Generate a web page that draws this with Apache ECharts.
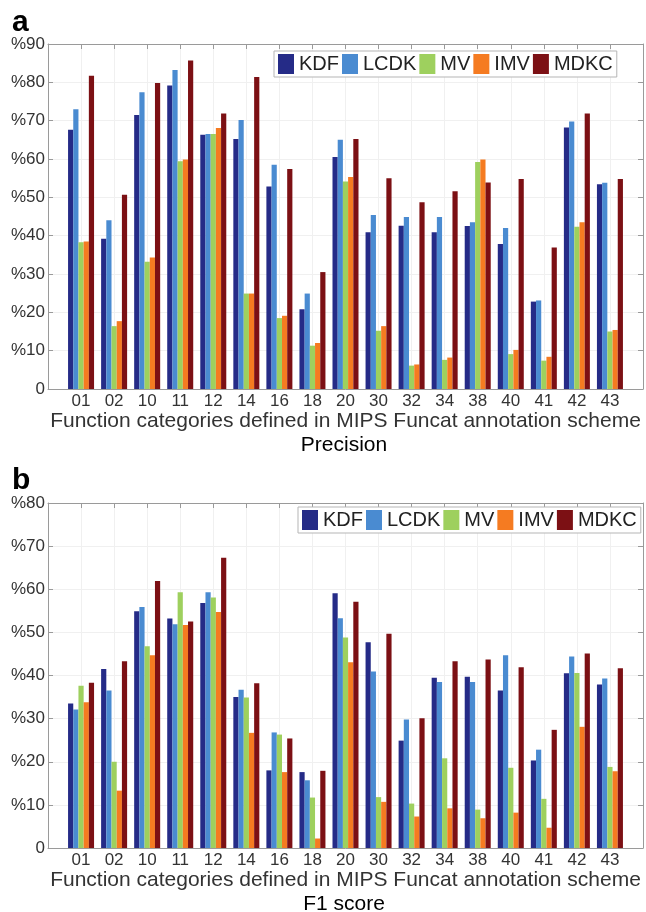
<!DOCTYPE html>
<html>
<head>
<meta charset="utf-8">
<script src="https://cdn.jsdelivr.net/npm/echarts@6/dist/echarts.min.js"></script>
<style>
html,body{margin:0;padding:0;background:#fff;}
#c{width:646px;height:912px;}
</style>
</head>
<body>
<div id="c"></div>
<script>
var categories = ['01','02','10','11','12','14','16','18','20','30','32','34','38','40','41','42','43'];
var methods = ['KDF','LCDK','MV','IMV','MDKC'];
var colors = ['#252b87','#4a8bd1','#9ed05e','#f57b21','#7c1014'];

// Panel a: Precision (%)
var precKDF  = [67.6,39.2,71.5,79.2,66.3,65.2,52.8,20.8,60.5,40.9,42.6,40.9,42.5,37.8,22.8,68.2,53.4];
var precLCDK = [73.0,44.0,77.4,83.2,66.5,70.2,58.5,24.9,65.0,45.4,44.9,44.9,43.5,42.0,23.1,69.8,53.8];
var precMV   = [38.3,16.4,33.2,59.4,66.5,24.9,18.5,11.3,54.1,15.2,6.1,7.6,59.2,9.1,7.4,42.3,15.0];
var precIMV  = [38.5,17.7,34.3,59.9,68.1,24.9,19.1,12.0,55.3,16.4,6.4,8.2,59.9,10.2,8.4,43.5,15.4];
var precMDKC = [81.7,50.7,79.8,85.7,71.9,81.4,57.4,30.5,65.2,55.0,48.7,51.6,53.9,54.8,36.9,71.9,54.8];

// Panel b: F1 score (%)
var f1KDF  = [33.5,41.5,54.9,53.2,56.8,35.0,18.0,17.6,59.1,47.7,24.9,39.5,39.7,36.5,20.3,40.5,37.9];
var f1LCDK = [32.1,36.5,55.9,51.9,59.3,36.7,26.8,15.7,53.3,40.9,29.8,38.5,38.5,44.7,22.8,44.4,39.3];
var f1MV   = [37.6,20.0,46.8,59.3,58.1,34.9,26.3,11.7,48.8,11.8,10.3,20.8,8.9,18.6,11.4,40.6,18.8];
var f1IMV  = [33.8,13.3,44.7,51.7,54.7,26.7,17.6,2.2,43.1,10.7,7.3,9.2,6.9,8.2,4.7,28.1,17.8];
var f1MDKC = [38.3,43.3,61.9,52.5,67.3,38.2,25.4,17.9,57.1,49.7,30.1,43.3,43.7,41.9,27.4,45.1,41.7];

var xTitle = 'Function categories defined in MIPS Funcat annotation scheme';
var panelTitles = ['Precision','F1 score'];
var panelLetters = ['a','b'];
var yMax = [90, 80];

var precData = [precKDF, precLCDK, precMV, precIMV, precMDKC];
var f1Data = [f1KDF, f1LCDK, f1MV, f1IMV, f1MDKC];

var FONT = '"Liberation Sans", Arial, sans-serif';
var frameColor = '#9a9a9a';
var gridColor = '#f0f0f0';
var textColor = '#333';

var chart = echarts.init(document.getElementById('c'), null, {renderer:'canvas'});

var grids = [
  {left:48, right:2, top:44, height:345},
  {left:48, right:2, top:503, height:345}
];

function xAxisPair(gi){
  var base = {
    type:'value', gridIndex:gi, min:0, max:categories.length+1, interval:1
  };
  var bottom = Object.assign({}, base, {
    position:'bottom',
    axisLine:{show:true, onZero:false, lineStyle:{color:frameColor, width:1}},
    axisTick:{show:true, inside:true, length:5, lineStyle:{color:frameColor}},
    splitLine:{show:true, lineStyle:{color:gridColor, width:1}},
    axisLabel:{
      show:true, margin:4, color:textColor, fontFamily:FONT, fontSize:17,
      showMinLabel:true, showMaxLabel:true,
      formatter:function(v){ return categories[v-1] || ''; }
    },
    name: xTitle, nameLocation:'middle', nameGap:20,
    nameTextStyle:{color:textColor, fontFamily:FONT, fontSize:21}
  });
  var top = Object.assign({}, base, {
    position:'top',
    axisLine:{show:true, onZero:false, lineStyle:{color:frameColor, width:1}},
    axisTick:{show:true, inside:true, length:5, lineStyle:{color:frameColor}},
    splitLine:{show:false},
    axisLabel:{show:false}
  });
  return [bottom, top];
}
function yAxisPair(gi){
  var base = {type:'value', gridIndex:gi, min:0, max:yMax[gi], interval:10};
  var left = Object.assign({}, base, {
    position:'left',
    axisLine:{show:true, onZero:false, lineStyle:{color:frameColor, width:1}},
    axisTick:{show:true, inside:true, length:5, lineStyle:{color:frameColor}},
    splitLine:{show:true, lineStyle:{color:gridColor, width:1}},
    axisLabel:{
      show:true, margin:3, color:textColor, fontFamily:FONT, fontSize:17,
      formatter:function(v){ return v === 0 ? '0' : '%' + v; }
    }
  });
  var right = Object.assign({}, base, {
    position:'right',
    axisLine:{show:true, onZero:false, lineStyle:{color:frameColor, width:1}},
    axisTick:{show:true, inside:true, length:5, lineStyle:{color:frameColor}},
    splitLine:{show:false},
    axisLabel:{show:false}
  });
  return [left, right];
}

var xAxes = xAxisPair(0).concat(xAxisPair(1));   // indices 0,1 grid0 ; 2,3 grid1
var yAxes = yAxisPair(0).concat(yAxisPair(1));

var series = [];
[precData, f1Data].forEach(function(panel, gi){
  panel.forEach(function(vals, mi){
    series.push({
      type:'bar', name:methods[mi],
      xAxisIndex: gi*2, yAxisIndex: gi*2,
      barWidth:5.2, barGap:'0%',
      itemStyle:{color:colors[mi]},
      data: vals.map(function(v, i){ return [i+1, v]; }),
      animation:false
    });
  });
});

function legendAt(left, top){
  return {
    data: methods.map(function(m){ return {name:m, icon:'rect'}; }),
    left:left, top:top, orient:'horizontal',
    itemWidth:16, itemHeight:20, itemGap:3,
    padding:[3,4,3,4],
    backgroundColor:'#fff', borderColor:'#b5b5b5', borderWidth:1,
    textStyle:{color:'#222', fontFamily:FONT, fontSize:20},
    selectedMode:false
  };
}

var graphics = [
  {type:'text', left:12, top:8, style:{text:panelLetters[0], font:'bold 30px ' + FONT, fill:'#000'}},
  {type:'text', left:12, top:466, style:{text:panelLetters[1], font:'bold 30px ' + FONT, fill:'#000'}},
  {type:'text', x:344, y:445, style:{text:panelTitles[0], font:'21px ' + FONT, fill:'#000', textAlign:'center', textVerticalAlign:'middle'}},
  {type:'text', x:344, y:904, style:{text:panelTitles[1], font:'21px ' + FONT, fill:'#000', textAlign:'center', textVerticalAlign:'middle'}}
];

chart.setOption({
  animation:false,
  backgroundColor:'#fff',
  grid: grids,
  xAxis: xAxes,
  yAxis: yAxes,
  legend: [legendAt(274, 51), legendAt(298, 507)],
  graphic: graphics,
  series: series
});
</script>
</body>
</html>
